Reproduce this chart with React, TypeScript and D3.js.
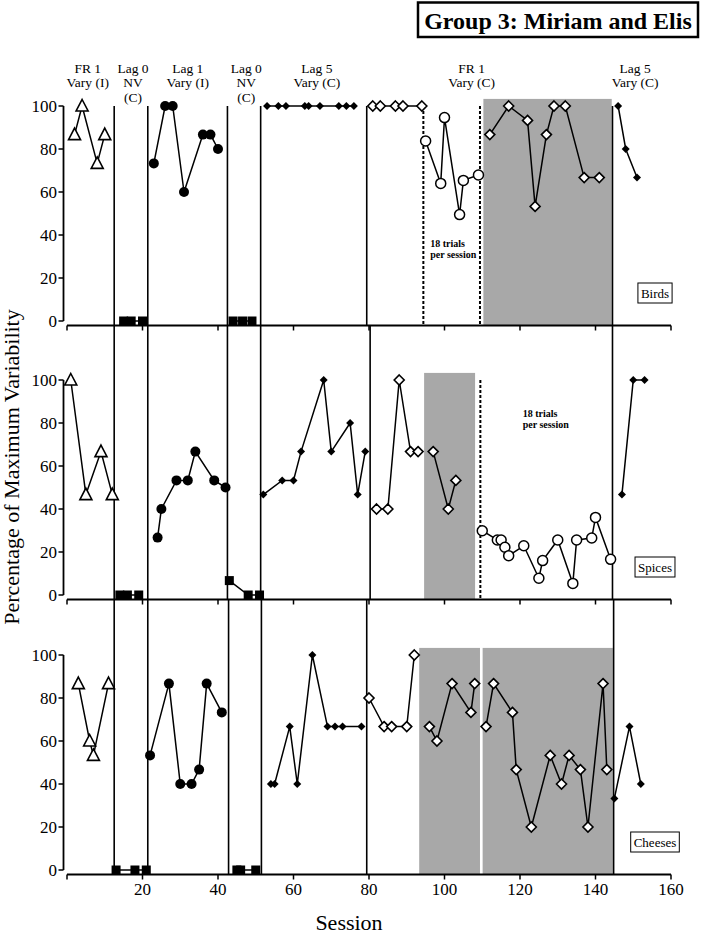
import React, { useLayoutEffect, useRef, useState } from 'react';
import * as d3 from 'd3';

// [session, % of max variability] per phase
const birdsFr1I = [[2, 86.7], [4, 100], [8, 73.3], [10, 86.7]];
const birdsLag0a = [[15, 0], [17, 0], [20, 0]];
const birdsLag1 = [[23, 73.3], [26, 100], [28, 100], [31, 60], [36, 86.7], [38, 86.7], [40, 80]];
const birdsLag0b = [[44, 0], [46.5, 0], [49, 0]];
const birdsLag5a = [[53, 100], [56, 100], [58, 100], [63, 100], [64, 100], [67, 100], [72, 100], [74, 100], [76, 100]];
const birdsFr1C = [[81, 100], [83, 100], [87, 100], [89, 100], [94, 100]];
const birds18 = [[95, 83.7], [99, 64], [100, 94.6], [104, 49.5], [105, 65.4], [109, 67.9]];
const birdsFr1CShade = [[112, 86.7], [117, 100], [122, 93.3], [124, 53.3], [127, 86.7], [129, 100], [132, 100], [137, 66.7], [141, 66.7]];
const birdsLag5b = [[146, 100], [148, 80], [151, 66.7]];

const spicesFr1I = [[1, 100], [5, 46.7], [9, 66.7], [12, 46.7]];
const spicesLag0a = [[14, 0], [16, 0], [19, 0]];
const spicesLag1 = [[24, 26.7], [25, 40], [29, 53.3], [32, 53.3], [34, 66.7], [39, 53.3], [42, 50]];
const spicesLag0b = [[43, 6.7], [48, 0], [51, 0]];
const spicesLag5a = [[52, 46.7], [57, 53.3], [60, 53.3], [62, 66.7], [68, 100], [70, 66.7], [75, 80], [77, 46.7], [79, 66.7]];
const spicesFr1C = [[82, 40], [85, 40], [88, 100], [91, 66.7], [93, 66.7]];
const spicesFr1CShade = [[97, 66.7], [101, 40], [103, 53.3]];
const spices18 = [[110, 29.9], [114, 25.6], [115, 25.6], [116, 22.2], [117, 18.3], [121, 22.9], [125, 7.8], [126, 16], [130, 25.6], [134, 5.4], [135, 25.6], [139, 26.5], [140, 36.1], [144, 16.6]];
const spicesLag5b = [[147, 46.7], [150, 100], [153, 100]];

const cheesesFr1I = [[3, 86.7], [6, 60], [7, 53.3], [11, 86.7]];
const cheesesLag0a = [[13, 0], [18, 0], [21, 0]];
const cheesesLag1 = [[22, 53.3], [27, 86.7], [30, 40], [33, 40], [35, 46.7], [37, 86.7], [41, 73.3]];
const cheesesLag0b = [[45, 0], [46, 0], [50, 0]];
const cheesesLag5a = [[54, 40], [55, 40], [59, 66.7], [61, 40], [65, 100], [69, 66.7], [71, 66.7], [73, 66.7], [78, 66.7]];
const cheesesFr1C = [[80, 80], [84, 66.7], [86, 66.7], [90, 66.7], [92, 100]];
const cheesesShadeA = [[96, 66.7], [98, 60], [102, 86.7], [107, 73.3], [108, 86.7]];
const cheesesShadeB = [[111, 66.7], [113, 86.7], [118, 73.3], [119, 46.7], [123, 20], [128, 53.3], [131, 40], [133, 53.3], [136, 46.7], [138, 20], [142, 86.7], [143, 46.7]];
const cheesesLag5b = [[145, 33.3], [149, 66.7], [152, 40]];

// phase change lines (session positions)
const birdsSolid = [12.5, 21.4, 42.5, 51.3, 79.4, 144.5];
const birdsDashed = [94.4, 109.4];
const birdsShade = [[110.3, 144.3]];
const spicesSolid = [12.5, 21.4, 42.5, 51.3, 80.3, 144.5];
const spicesDashed = [109.5];
const spicesShade = [[94.6, 108.1]];
const cheesesSolid = [12.5, 21.4, 42.8, 51.5, 79.4, 144.8];
const cheesesDashed: number[] = [];
const cheesesShade = [[93.3, 109.4], [110.1, 144.6]];

const phaseLabels = [
  { s: 5.5, lines: ['FR 1', 'Vary (I)'] },
  { s: 17.5, lines: ['Lag 0', 'NV', '(C)'] },
  { s: 32, lines: ['Lag 1', 'Vary (I)'] },
  { s: 47.5, lines: ['Lag 0', 'NV', '(C)'] },
  { s: 66.2, lines: ['Lag 5', 'Vary (C)'] },
  { s: 107.2, lines: ['FR 1', 'Vary (C)'] },
  { s: 150.5, lines: ['Lag 5', 'Vary (C)'] },
];

const xTicks = [20, 40, 60, 80, 100, 120, 140, 160];
const yTicks = [0, 20, 40, 60, 80, 100];

const FONT = '"Liberation Serif", "Times New Roman", serif';

const x = d3.scaleLinear().domain([0, 160]).range([67, 671]);
const PANEL_H = 215;
const AXIS_GAP = 4.5;

const panels = [
  {
    name: 'Birds', base: 321,
    solid: birdsSolid, dashed: birdsDashed, shade: birdsShade,
    note: { s: 96.2, v: 34.6 },
    series: [
      { pts: birdsFr1I, m: 'openTri' }, { pts: birdsLag0a, m: 'square' }, { pts: birdsLag1, m: 'dot' },
      { pts: birdsLag0b, m: 'square' }, { pts: birdsLag5a, m: 'dia' }, { pts: birdsFr1C, m: 'openDia' },
      { pts: birds18, m: 'openCirc' }, { pts: birdsFr1CShade, m: 'openDia' }, { pts: birdsLag5b, m: 'dia' },
    ],
  },
  {
    name: 'Spices', base: 595,
    solid: spicesSolid, dashed: spicesDashed, shade: spicesShade,
    note: { s: 120.7, v: 83 },
    series: [
      { pts: spicesFr1I, m: 'openTri' }, { pts: spicesLag0a, m: 'square' }, { pts: spicesLag1, m: 'dot' },
      { pts: spicesLag0b, m: 'square' }, { pts: spicesLag5a, m: 'dia' }, { pts: spicesFr1C, m: 'openDia' },
      { pts: spicesFr1CShade, m: 'openDia' }, { pts: spices18, m: 'openCirc' }, { pts: spicesLag5b, m: 'dia' },
    ],
  },
  {
    name: 'Cheeses', base: 870,
    solid: cheesesSolid, dashed: cheesesDashed, shade: cheesesShade,
    note: null,
    series: [
      { pts: cheesesFr1I, m: 'openTri' }, { pts: cheesesLag0a, m: 'square' }, { pts: cheesesLag1, m: 'dot' },
      { pts: cheesesLag0b, m: 'square' }, { pts: cheesesLag5a, m: 'dia' }, { pts: cheesesFr1C, m: 'openDia' },
      { pts: cheesesShadeA, m: 'openDia' }, { pts: cheesesShadeB, m: 'openDia' }, { pts: cheesesLag5b, m: 'dia' },
    ],
  },
];

function Marker({ m, cx, cy }: { m: string; cx: number; cy: number }) {
  switch (m) {
    case 'openTri':
      return <path d={`M${cx},${cy - 6.5}L${cx + 6},${cy + 5}L${cx - 6},${cy + 5}Z`} fill="white" stroke="black" strokeWidth={1.6} />;
    case 'dot':
      return <circle cx={cx} cy={cy} r={5} fill="black" />;
    case 'square':
      return <rect x={cx - 4.5} y={cy - 4.5} width={9} height={9} fill="black" />;
    case 'dia':
      return <path d={`M${cx},${cy - 4}L${cx + 4},${cy}L${cx},${cy + 4}L${cx - 4},${cy}Z`} fill="black" />;
    case 'openDia':
      return <path d={`M${cx},${cy - 5}L${cx + 5},${cy}L${cx},${cy + 5}L${cx - 5},${cy}Z`} fill="white" stroke="black" strokeWidth={1.6} />;
    case 'openCirc':
      return <circle cx={cx} cy={cy} r={5} fill="white" stroke="black" strokeWidth={1.5} />;
    default:
      return null;
  }
}

function BoxedLabel({ text, cx, cy, size }: { text: string; cx: number; cy: number; size: number }) {
  const ref = useRef<SVGTextElement>(null);
  const [w, setW] = useState(text.length * 6.5);
  useLayoutEffect(() => {
    if (ref.current) setW(ref.current.getComputedTextLength());
  }, [text]);
  const pad = 3;
  const h = size + 7;
  return (
    <g>
      <rect x={cx - w / 2 - pad} y={cy - h / 2} width={w + 2 * pad} height={h} fill="white" stroke="black" strokeWidth={1} />
      <text ref={ref} x={cx} y={cy} textAnchor="middle" dominantBaseline="central" fontSize={size} fontFamily={FONT}>{text}</text>
    </g>
  );
}

export default function App() {
  const line = d3.line<number[]>();
  return (
    <svg width={701} height={935} style={{ position: 'absolute', left: 0, top: 0, background: 'white' }}>
      <rect width={701} height={935} fill="white" />
      {panels.map((p, i) => {
        const y = d3.scaleLinear().domain([0, 100]).range([p.base, p.base - PANEL_H]);
        const axisY = p.base + AXIS_GAP;
        const lineTop = i === 0 ? y(100) : panels[i - 1].base + AXIS_GAP;
        line.x(d => x(d[0])).y(d => y(d[1]));
        return (
          <g key={p.name}>
            {p.shade.map(([a, b], k) => (
              <rect key={k} x={x(a)} y={y(103.3)} width={x(b) - x(a)} height={axisY - y(103.3)} fill="#a8a8a8" />
            ))}
            {p.solid.map((s, k) => (
              <line key={k} x1={x(s)} x2={x(s)} y1={lineTop} y2={axisY} stroke="black" strokeWidth={1.6} />
            ))}
            {p.dashed.map((s, k) => (
              <line key={k} x1={x(s)} x2={x(s)} y1={y(100)} y2={axisY} stroke="black" strokeWidth={2} strokeDasharray="3,2" />
            ))}
            {/* x axis */}
            <line x1={x(0)} x2={x(160)} y1={axisY} y2={axisY} stroke="black" strokeWidth={1.8} />
            {[0, ...xTicks].map(t => (
              <line key={t} x1={x(t)} x2={x(t)} y1={axisY} y2={axisY + 5} stroke="black" strokeWidth={1.5} />
            ))}
            {i === panels.length - 1 && xTicks.map(t => (
              <text key={t} x={x(t)} y={895} textAnchor="middle" fontSize={17} fontFamily={FONT}>{t}</text>
            ))}
            {/* y axis */}
            <line x1={63.5} x2={63.5} y1={y(0)} y2={y(100)} stroke="black" strokeWidth={1.8} />
            {yTicks.map(t => (
              <g key={t}>
                <line x1={58.5} x2={63.5} y1={y(t)} y2={y(t)} stroke="black" strokeWidth={1.5} />
                <text x={57} y={y(t)} textAnchor="end" dominantBaseline="central" fontSize={17} fontFamily={FONT}>{t}</text>
              </g>
            ))}
            {p.series.map((s, k) => (
              <path key={k} d={line(s.pts) || ''} fill="none" stroke="black" strokeWidth={1.5} />
            ))}
            {p.series.map((s, k) => (
              <g key={k}>
                {s.pts.map((d, j) => <Marker key={j} m={s.m} cx={x(d[0])} cy={y(d[1])} />)}
              </g>
            ))}
            {p.note && (
              <text x={x(p.note.s)} y={y(p.note.v)} fontSize={10} fontWeight="bold" fontFamily={FONT}>
                <tspan x={x(p.note.s)}>18 trials</tspan>
                <tspan x={x(p.note.s)} dy={11.5}>per session</tspan>
              </text>
            )}
            <BoxedLabel text={p.name} cx={655} cy={p.base - 28} size={13} />
          </g>
        );
      })}
      {phaseLabels.map((l, k) => (
        <text key={k} textAnchor="middle" fontSize={13.5} fontFamily={FONT}>
          {l.lines.map((t, j) => (
            <tspan key={j} x={x(l.s)} y={72.5 + j * 14.5}>{t}</tspan>
          ))}
        </text>
      ))}
      <text transform="translate(19,467) rotate(-90)" textAnchor="middle" fontSize={22} fontFamily={FONT}>
        Percentage of Maximum Variability
      </text>
      <text x={349} y={930} textAnchor="middle" fontSize={22} fontFamily={FONT}>Session</text>
      <rect x={418} y={2.5} width={280} height={34.5} fill="white" stroke="black" strokeWidth={2.5} />
      <text x={558} y={29} textAnchor="middle" fontSize={24} fontWeight="bold" fontFamily={FONT}>
        Group 3: Miriam and Elis
      </text>
    </svg>
  );
}
